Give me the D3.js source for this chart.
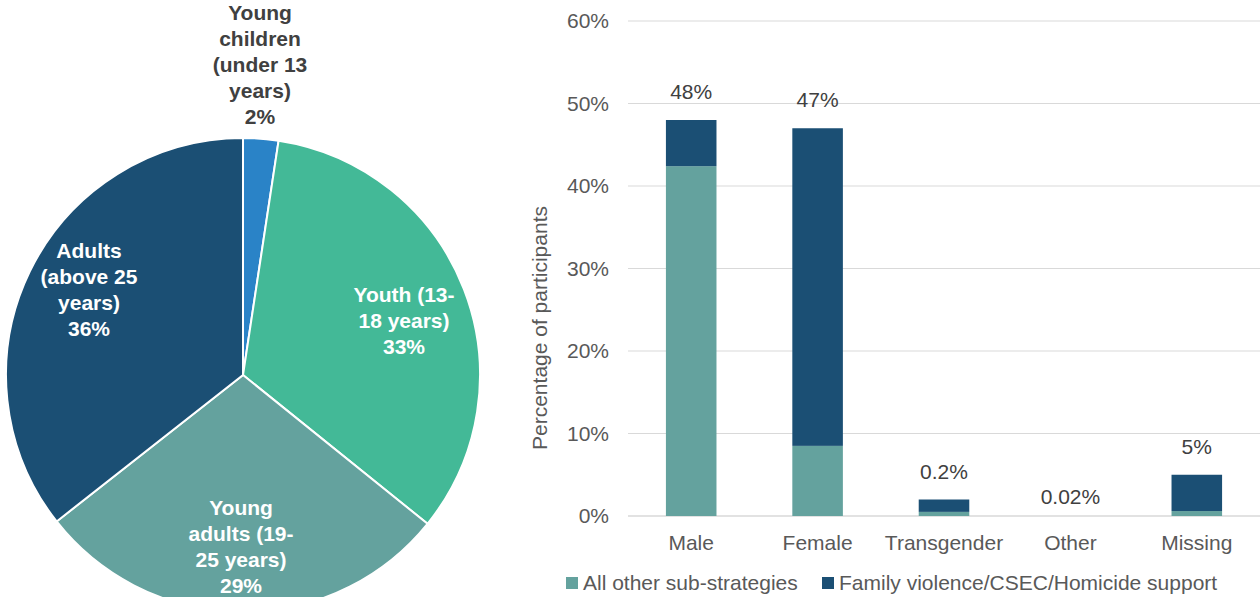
<!DOCTYPE html>
<html>
<head>
<meta charset="utf-8">
<script src="https://cdn.jsdelivr.net/npm/d3@7"></script>
<style>
  body { margin: 0; background: #fff; }
  svg { display: block; font-family: "Liberation Sans", Arial, sans-serif; }
</style>
</head>
<body>
<svg id="chart" width="1260" height="597"></svg>
<script>
// pie data: age groups
const ageGroups = ["Young children", "Youth", "Young adults", "Adults"];
const ageShares = [2.4, 33.4, 28.6, 35.6];
const ageLabels = [
  ["Young", "children", "(under 13", "years)", "2%"],
  ["Youth (13-", "18 years)", "33%"],
  ["Young", "adults (19-", "25 years)", "29%"],
  ["Adults", "(above 25", "years)", "36%"]
];
const ageColors = ["#2a83c7", "#43b997", "#64a29e", "#1b4f74"];

// bar data: gender
const genders = ["Male", "Female", "Transgender", "Other", "Missing"];
const otherStrategies = [42.4, 8.5, 0.5, 0, 0.6];
const familySupport = [5.6, 38.5, 1.5, 0, 4.4];
const totalLabels = ["48%", "47%", "0.2%", "0.02%", "5%"];
const seriesNames = ["All other sub-strategies", "Family violence/CSEC/Homicide support"];
const seriesColors = ["#64a29e", "#1b4f74"];
const yTicks = [0, 10, 20, 30, 40, 50, 60];

const svg = d3.select("#chart");
const fs = 21;

/* ---- pie ---- */
const cx = 243, cy = 375, radius = 237;
const pieG = svg.append("g").attr("transform", `translate(${cx},${cy})`);
const pie = d3.pie().sort(null).value((d) => d)(ageShares);
const arc = d3.arc().innerRadius(0).outerRadius(radius);

pieG.selectAll("path")
  .data(pie)
  .join("path")
  .attr("d", arc)
  .attr("fill", (d, i) => ageColors[i])
  .attr("stroke", "#fff")
  .attr("stroke-width", 2);

// label anchors, relative to pie centre
const labelPos = [[17, -355], [161, -73], [-2, 140], [-154, -117]];
const lineH = 26;
pieG.selectAll("text.pie-label")
  .data(ageLabels)
  .join("text")
  .attr("class", "pie-label")
  .attr("text-anchor", "middle")
  .attr("font-size", fs)
  .attr("font-weight", "bold")
  .attr("fill", (d, i) => (i === 0 ? "#404040" : "#fff"))
  .each(function (lines, i) {
    const t = d3.select(this);
    lines.forEach((ln, j) => {
      t.append("tspan")
        .attr("x", labelPos[i][0])
        .attr("y", labelPos[i][1] + j * lineH)
        .text(ln);
    });
  });

/* ---- stacked bars ---- */
const x = d3.scaleBand().domain(genders).range([628, 1260]).paddingInner(0.6).paddingOuter(0.3);
const y = d3.scaleLinear().domain([0, 60]).range([516, 21]);

const barG = svg.append("g");

// gridlines
barG.selectAll("line.grid")
  .data(yTicks)
  .join("line")
  .attr("class", "grid")
  .attr("x1", 628)
  .attr("x2", 1260)
  .attr("y1", (d) => y(d))
  .attr("y2", (d) => y(d))
  .attr("stroke", "#d9d9d9")
  .attr("stroke-width", (d) => (d === 0 ? 1.5 : 1));

// y tick labels
barG.selectAll("text.ytick")
  .data(yTicks)
  .join("text")
  .attr("class", "ytick")
  .attr("x", 609)
  .attr("y", (d) => y(d))
  .attr("dy", "0.35em")
  .attr("text-anchor", "end")
  .attr("font-size", fs)
  .attr("fill", "#595959")
  .text((d) => d + "%");

const stackData = genders.map((g, i) => ({ gender: g, other: otherStrategies[i], family: familySupport[i] }));
const stack = d3.stack().keys(["other", "family"])(stackData);

barG.selectAll("g.series")
  .data(stack)
  .join("g")
  .attr("class", "series")
  .attr("fill", (d, i) => seriesColors[i])
  .selectAll("rect")
  .data((d) => d)
  .join("rect")
  .attr("x", (d) => x(d.data.gender))
  .attr("width", x.bandwidth())
  .attr("y", (d) => y(d[1]))
  .attr("height", (d) => y(d[0]) - y(d[1]));

// total labels
barG.selectAll("text.total")
  .data(stackData)
  .join("text")
  .attr("class", "total")
  .attr("x", (d) => x(d.gender) + x.bandwidth() / 2)
  .attr("y", (d) => y(d.other + d.family) - (d.other + d.family === 0 ? 12 : 21))
  .attr("text-anchor", "middle")
  .attr("font-size", fs)
  .attr("fill", "#404040")
  .text((d, i) => totalLabels[i]);

// category labels
barG.selectAll("text.cat")
  .data(genders)
  .join("text")
  .attr("class", "cat")
  .attr("x", (d) => x(d) + x.bandwidth() / 2)
  .attr("y", 550)
  .attr("text-anchor", "middle")
  .attr("font-size", fs)
  .attr("fill", "#595959")
  .text((d) => d);

// y axis title
barG.append("text")
  .attr("transform", "translate(547,328) rotate(-90)")
  .attr("text-anchor", "middle")
  .attr("font-size", fs)
  .attr("fill", "#595959")
  .text("Percentage of participants");

// legend
const legendX = [566, 822];
const legend = barG.selectAll("g.legend")
  .data(seriesNames)
  .join("g")
  .attr("class", "legend")
  .attr("transform", (d, i) => `translate(${legendX[i]},577)`);
legend.append("rect")
  .attr("width", 12)
  .attr("height", 12)
  .attr("fill", (d, i) => seriesColors[i]);
legend.append("text")
  .attr("x", 17)
  .attr("y", 6)
  .attr("dy", "0.35em")
  .attr("font-size", fs)
  .attr("fill", "#595959")
  .text((d) => d);
</script>
</body>
</html>
